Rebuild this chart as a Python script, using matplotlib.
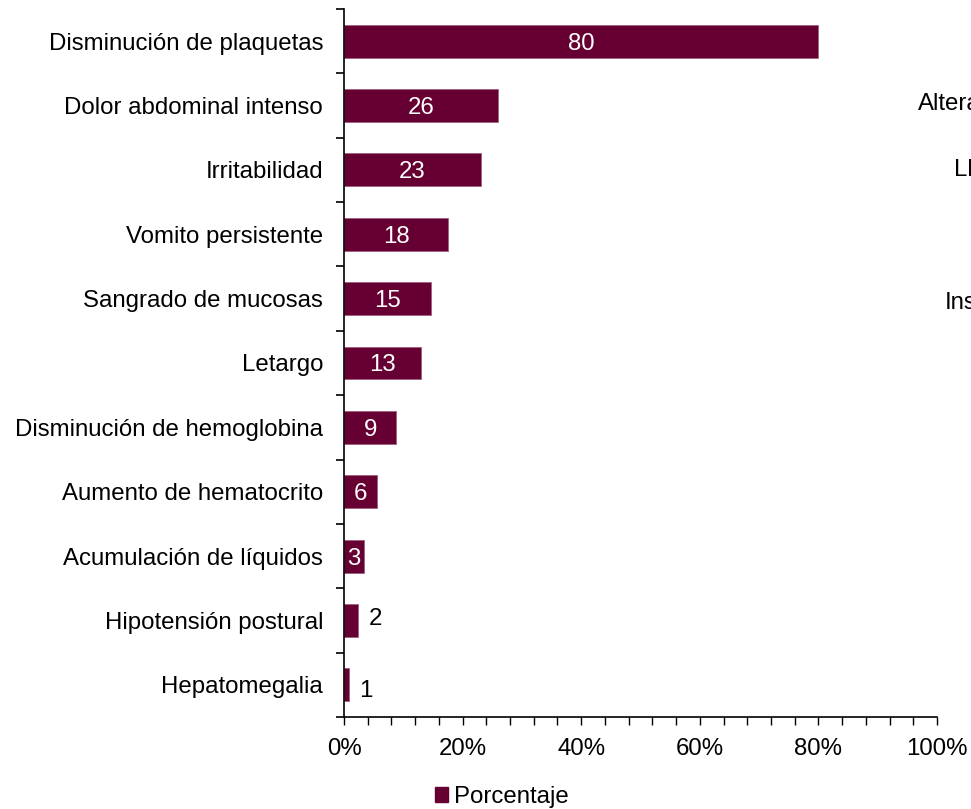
import matplotlib
matplotlib.use("Agg")
import matplotlib.pyplot as plt
from matplotlib.ticker import MultipleLocator, FuncFormatter
from matplotlib.patches import Patch

plt.rcParams['font.family'] = ['Liberation Sans', 'DejaVu Sans']

categories = [
    "Disminución de plaquetas",
    "Dolor abdominal intenso",
    "Irritabilidad",
    "Vomito persistente",
    "Sangrado de mucosas",
    "Letargo",
    "Disminución de hemoglobina",
    "Aumento de hematocrito",
    "Acumulación de líquidos",
    "Hipotensión postural",
    "Hepatomegalia",
]
values = [80.0, 25.9, 23.1, 17.6, 14.7, 13.0, 8.8, 5.6, 3.4, 2.4, 0.8]
labels = ["80", "26", "23", "18", "15", "13", "9", "6", "3", "2", "1"]
series_name = "Porcentaje"
side_texts = ["Alteración", "Llenado", "Insuficiencia"]

color = "#660033"
FS = 17.3

fig = plt.figure(figsize=(9.71, 8.09), dpi=100)
ax = fig.add_axes([344/971, 1-717/809, (937-344)/971, (717-9)/809])

n = len(categories)
ypos = list(range(n))
ax.barh(ypos, values, height=0.51, color=color, edgecolor="#a0607f", linewidth=0.6)
ax.set_xlim(0, 100)
ax.set_ylim(n - 0.5, -0.5)

for y, v, lab in zip(ypos, values, labels):
    if v >= 3:
        ax.text(v / 2, y, lab, ha="center", va="center_baseline", color="white", fontsize=FS)
    else:
        ax.text(v + 1.7, y - 0.06 if v > 2 else y + 0.05, lab, ha="left",
                va="center_baseline", color="black", fontsize=FS)

ax.set_yticks(ypos)
ax.set_yticklabels(categories, fontsize=FS)
ax.set_yticks([i - 0.5 for i in range(n + 1)], minor=True)
ax.tick_params(axis="y", which="major", length=0, pad=15)
ax.tick_params(axis="y", which="minor", length=6, width=1.2, direction="out")

ax.xaxis.set_major_locator(MultipleLocator(20))
ax.xaxis.set_minor_locator(MultipleLocator(4))
ax.xaxis.set_major_formatter(FuncFormatter(lambda x, p: f"{x:.0f}%"))
ax.tick_params(axis="x", which="major", length=6, width=1.0, labelsize=FS, pad=9)
ax.tick_params(axis="x", which="minor", length=6, width=1.0)

for s in ["top", "right"]:
    ax.spines[s].set_visible(False)
ax.spines["left"].set_linewidth(1.2)
ax.spines["bottom"].set_linewidth(1.2)

handle = Patch(facecolor=color, edgecolor=color)
fig.legend([handle], [series_name], loc="center", bbox_to_anchor=(502/971, 1-797/809),
           frameon=False, fontsize=FS, handlelength=0.55, handleheight=0.6,
           handletextpad=0.25, borderaxespad=0)

fig.text(918/971, 1-104/809, side_texts[0], ha="left", va="center", fontsize=FS)
fig.text(954/971, 1-170/809, side_texts[1], ha="left", va="center", fontsize=FS)
fig.text(945/971, 1-303/809, side_texts[2], ha="left", va="center", fontsize=FS)

fig.savefig("out.png", dpi=100)
